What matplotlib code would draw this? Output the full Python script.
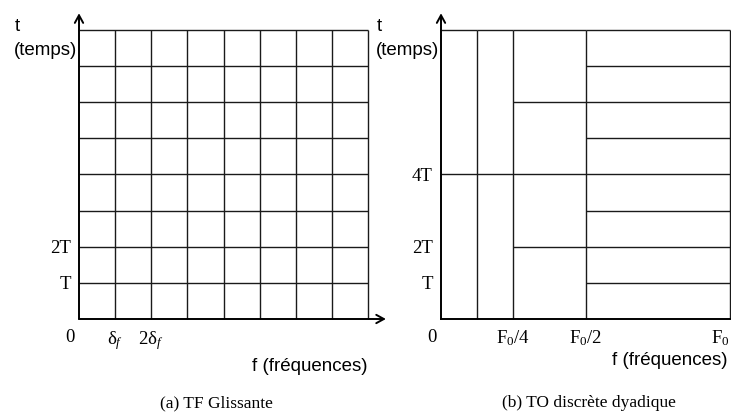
import matplotlib.pyplot as plt

plt.rcParams['font.family'] = 'Liberation Serif'
plt.rcParams['mathtext.fontset'] = 'custom'
plt.rcParams['mathtext.rm'] = 'Liberation Serif'
plt.rcParams['mathtext.it'] = 'Liberation Serif:italic'

# (a) sliding FT: uniform tiling, 8 frequency bins x 8 time steps
n_freq = 8
n_time = 8
stft_xticks = [1, 2]
stft_xlabels = ['δ$_f$', '2δ$_f$']
stft_yticks = [1, 2]
stft_ylabels = ['T', '2T']

# (b) dyadic wavelet: frequency bands (fraction of F0) and time step of each band (in T)
band_lo = [0, 0.125, 0.25, 0.5]
band_hi = [0.125, 0.25, 0.5, 1.0]
band_step = [4, 4, 2, 1]
wav_xticks = [0.25, 0.5, 1.0]
wav_xlabels = ['F$_0$/4', 'F$_0$/2', 'F$_0$']
wav_yticks = [1, 2, 4]
wav_ylabels = ['T', '2T', '4T']

line_col = '#1a1a1a'
tick_size = 13.5
sans = 'Liberation Sans'

fig = plt.figure(figsize=(7.31, 4.15), dpi=100)
ax1 = fig.add_axes([79 / 731, 96 / 415, 289 / 731, 289 / 415])
ax2 = fig.add_axes([441 / 731, 96 / 415, 289 / 731, 289 / 415])


def setup_axes(ax, xmax, xticks, xlabels, yticks, ylabels):
    ax.set_xlim(0, xmax)
    ax.set_ylim(0, n_time)
    for s in ax.spines.values():
        s.set_visible(False)
    ax.set_xticks(xticks)
    ax.set_xticklabels(xlabels, fontsize=tick_size)
    ax.set_yticks(yticks)
    ax.set_yticklabels(ylabels, fontsize=tick_size)
    ax.tick_params(length=0, pad=7)
    ax.tick_params(axis='y', pad=6)
    ax.patch.set_alpha(0)
    # "0" sits diagonally off the origin
    ax.annotate('0', (0, 0), xytext=(-9, -18), textcoords='offset pixels',
                ha='center', va='center', fontsize=tick_size)
    ax.text(-0.215, 1.012, 't', transform=ax.transAxes, family=sans,
            fontsize=13.5, ha='center', va='center')
    ax.text(-0.008, 0.93, '(temps)', transform=ax.transAxes, family=sans,
            fontsize=13.5, ha='right', va='center')


def axis_arrows(ax, x_arrow=True):
    kw = dict(arrowstyle='->,head_length=0.55,head_width=0.3', lw=1.4, color='black',
              shrinkA=0, shrinkB=0)
    ax.annotate('', xy=(0, 1.058), xytext=(0, 0), xycoords='axes fraction',
                arrowprops=kw, annotation_clip=False)
    if x_arrow:
        ax.annotate('', xy=(1.062, 0), xytext=(0, 0), xycoords='axes fraction',
                    arrowprops=kw, annotation_clip=False)
    else:
        ax.axhline(0, color='black', lw=1.4, clip_on=False)


# (a) uniform grid
setup_axes(ax1, n_freq, stft_xticks, stft_xlabels, stft_yticks, stft_ylabels)
ax1.vlines(range(1, n_freq + 1), 0, n_time, color=line_col, lw=1.0, clip_on=False)
ax1.hlines(range(1, n_time + 1), 0, n_freq, color=line_col, lw=1.0, clip_on=False)
axis_arrows(ax1)
ax1.text(1.0, -0.166, 'f (fréquences)', transform=ax1.transAxes, family=sans,
         fontsize=13.5, ha='right', va='center')

# (b) dyadic tiling
setup_axes(ax2, 1.0, wav_xticks, wav_xlabels, wav_yticks, wav_ylabels)
ax2.vlines(band_hi, 0, n_time, color=line_col, lw=1.0, clip_on=False)
for lo, hi, step in zip(band_lo, band_hi, band_step):
    ax2.hlines(range(step, n_time + 1, step), lo, hi, color=line_col, lw=1.0,
               clip_on=False)
axis_arrows(ax2, x_arrow=False)
# last label sits on the right border of the figure
ax2.get_xticklabels()[-1].set_horizontalalignment('right')
ax2.text(0.993, -0.142, 'f (fréquences)', transform=ax2.transAxes, family=sans,
         fontsize=13.5, ha='right', va='center')

fig.text(216 / 731, 1 - 403 / 415, '(a) TF Glissante', ha='center', va='center',
         fontsize=12.5)
fig.text(589 / 731, 1 - 403 / 415, '(b) TO discrète dyadique', ha='center',
         va='center', fontsize=12.5)

fig.savefig('out.png', dpi=100, facecolor='white')
